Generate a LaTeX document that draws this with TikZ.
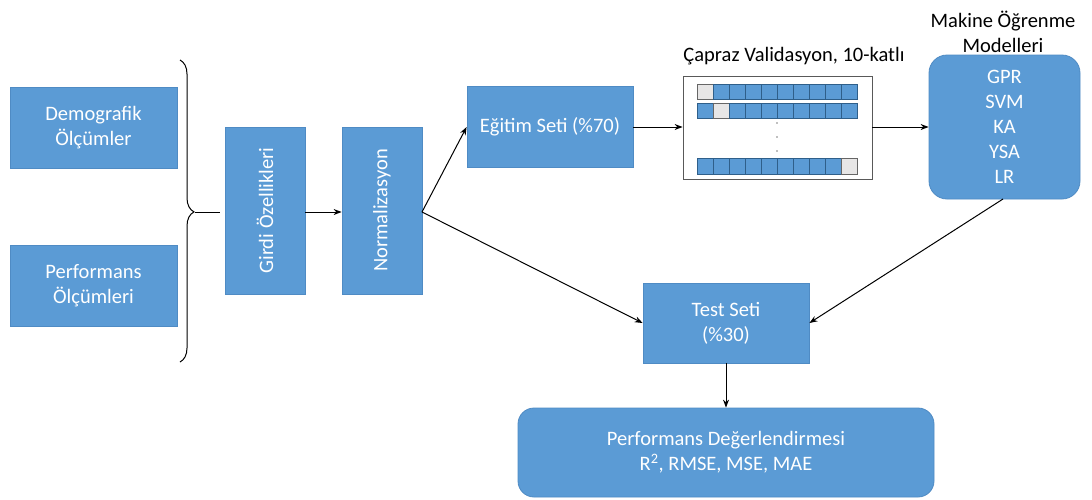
\documentclass[tikz,border=0pt]{standalone}
\usepackage{fontspec}
\setmainfont{Carlito}
\usetikzlibrary{arrows.meta,decorations.pathreplacing}
\definecolor{bfill}{HTML}{5B9BD5}
\definecolor{bdraw}{HTML}{4F8BC4}
\definecolor{cdraw}{HTML}{2F5F8A}
\definecolor{gfill}{HTML}{E7E6E6}
\tikzset{
  fnt/.style={font=\fontsize{20.5}{25}\selectfont},
  bluebox/.style={draw=bdraw, fill=bfill, text=white, fnt, align=center, inner sep=0pt, line width=0.8pt},
  roundbox/.style={bluebox, rounded corners=18pt},
  conn/.style={-{Stealth[length=8pt,width=6pt]}, line width=1pt, black},
  cellb/.style={draw=cdraw, fill=bfill, line width=0.7pt},
  cellg/.style={draw=gray!80!black, fill=gfill, line width=0.7pt},
  ttl/.style={fnt, align=center, text=black}
}
\begin{document}
\begin{tikzpicture}[x=1pt,y=-1pt]
\useasboundingbox[fill=white] (0,0) rectangle (1092,499);
% left boxes
\node[bluebox, minimum width=167pt, minimum height=81pt] (demo) at (93.5,127.5) {Demografik\\Ölçümler};
\node[bluebox, minimum width=167pt, minimum height=81pt] (perf) at (93.5,285.5) {Performans\\Ölçümleri};
% brace
\draw[line width=1pt, decorate, decoration={brace, amplitude=14pt, aspect=0.503}] (180,60) -- (180,362);
\coordinate (btip) at (195,212);
\coordinate (bend) at (220,212);
\draw[line width=1pt] (btip) -- (bend);
% vertical boxes
\node[bluebox, minimum width=80pt, minimum height=167pt] (girdi) at (265,210.5) {};
\node[text=white, fnt, rotate=90] (girditxt) at (girdi.center) {Girdi Özellikleri};
\node[bluebox, minimum width=80pt, minimum height=167pt] (norm) at (382,210.5) {};
\node[text=white, fnt, rotate=90] (normtxt) at (norm.center) {Normalizasyon};
\draw[conn] (girdi.east |- 0,212) coordinate (g1) -- (norm.west |- 0,212) coordinate (n1);
% egitim
\node[bluebox, minimum width=166pt, minimum height=81pt] (egitim) at (550,127) {Eğitim Seti (\%70)};
\coordinate (nout) at (422,212);
\draw[conn] (nout) -- (egitim.west);
% CV
\node[draw=gray!70!black, fill=white, line width=0.8pt, minimum width=189pt, minimum height=103pt] (cv) at (777.5,127.5) {};
\node[ttl] (cvt) at (794,56) {Çapraz Validasyon, 10-katlı};
\foreach \i in {0,...,9}{
  \pgfmathsetmacro{\xx}{697+16*\i}
  \ifnum\i=0
    \draw[cellg] (\xx,84) rectangle ++(16,15);
  \else
    \draw[cellb] (\xx,84) rectangle ++(16,15);
  \fi
  \ifnum\i=1
    \draw[cellg] (\xx,103) rectangle ++(16,15);
  \else
    \draw[cellb] (\xx,103) rectangle ++(16,15);
  \fi
  \ifnum\i=9
    \draw[cellg] (\xx,158) rectangle ++(16,16);
  \else
    \draw[cellb] (\xx,158) rectangle ++(16,16);
  \fi
}
\foreach \yy in {123,137,151}{ \fill[gray] (777,\yy) circle (0.8pt); }
\draw[conn] (egitim.east) -- (cv.west |- egitim.east);
% ML models
\node[roundbox, minimum width=151pt, minimum height=144pt] (ml) at (1004.5,127) {GPR\\SVM\\KA\\YSA\\LR};
\node[ttl] (mlt) at (1003,32) {Makine Öğrenme\\Modelleri};
\draw[conn] (cv.east |- egitim.east) -- (ml.west |- egitim.east);
% test
\node[bluebox, minimum width=166pt, minimum height=80pt] (test) at (726,323) {Test Seti\\(\%30)};
\draw[conn] (nout) -- (test.west);
\coordinate (mlb) at (1003,199);
\draw[conn] (mlb) -- (test.east);
% performance
\node[roundbox, rounded corners=16pt, minimum width=416pt, minimum height=89pt] (pd) at (726,452.5) {Performans Değerlendirmesi\\R\textsuperscript{2}, RMSE, MSE, MAE};
\draw[conn] (test.south) -- (pd.north);
\end{tikzpicture}
\end{document}
